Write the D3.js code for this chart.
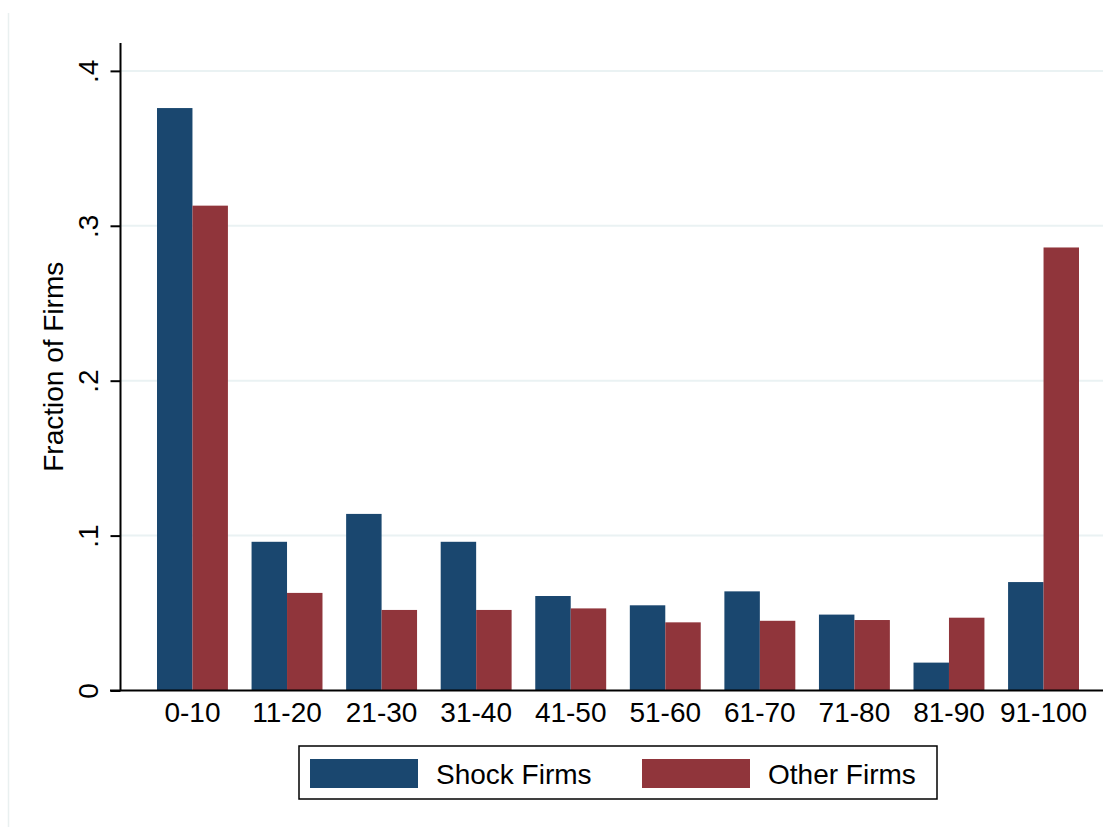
<!DOCTYPE html>
<html>
<head>
<meta charset="utf-8">
<script src="https://cdn.jsdelivr.net/npm/d3@7"></script>
<style>
  html, body { margin: 0; padding: 0; background: #ffffff; }
  svg { display: block; font-family: "Liberation Sans", Arial, Helvetica, sans-serif; }
</style>
</head>
<body>
<svg id="chart" width="1103" height="827"></svg>
<script>
// Share of firms by percentile bin
const categories = ["0-10", "11-20", "21-30", "31-40", "41-50", "51-60", "61-70", "71-80", "81-90", "91-100"];
const seriesNames = ["Shock Firms", "Other Firms"];
const shockFirms = [0.376, 0.096, 0.114, 0.096, 0.061, 0.055, 0.064, 0.049, 0.018, 0.070];
const otherFirms = [0.313, 0.063, 0.052, 0.052, 0.053, 0.044, 0.045, 0.0455, 0.047, 0.286];
const yTicks = [0, 0.1, 0.2, 0.3, 0.4];
const yTickLabels = ["0", ".1", ".2", ".3", ".4"];
const yTitle = "Fraction of Firms";

const colors = { "Shock Firms": "#1a476f", "Other Firms": "#90353b" };

const svg = d3.select("#chart");
const W = 1103, H = 827;
const FONT = 28;

const plot = { left: 120.5, top: 43, bottom: 690.5, right: W };

const rows = categories.map((c, i) => ({ cat: c, values: [shockFirms[i], otherFirms[i]] }));

const x = d3.scaleBand()
  .domain(categories)
  .range([157, 1079])
  .paddingInner(0.25)
  .paddingOuter(0);

const xs = d3.scaleBand()
  .domain(seriesNames)
  .range([0, x.bandwidth()])
  .padding(0);

const y = d3.scaleLinear()
  .domain([0, 0.418])
  .range([plot.bottom, plot.top]);

// outer frame edge
svg.append("line")
  .attr("x1", 8.5).attr("x2", 8.5)
  .attr("y1", 13).attr("y2", H)
  .attr("stroke", "#e9f0f0").attr("stroke-width", 1.5);

// horizontal grid lines
svg.append("g")
  .selectAll("line")
  .data(yTicks.filter(d => d > 0))
  .join("line")
  .attr("x1", plot.left).attr("x2", W)
  .attr("y1", d => y(d)).attr("y2", d => y(d))
  .attr("stroke", "#eaf2f3").attr("stroke-width", 2);

// bars
const groups = svg.append("g")
  .selectAll("g")
  .data(rows)
  .join("g")
  .attr("transform", d => `translate(${x(d.cat)},0)`);

groups.selectAll("rect")
  .data(d => d.values.map((v, i) => ({ name: seriesNames[i], value: v })))
  .join("rect")
  .attr("x", d => xs(d.name))
  .attr("width", xs.bandwidth())
  .attr("y", d => y(d.value))
  .attr("height", d => y(0) - y(d.value))
  .attr("fill", d => colors[d.name]);

// y axis
const yAxis = d3.axisLeft(y)
  .tickValues(yTicks)
  .tickFormat((d, i) => yTickLabels[i])
  .tickSize(10)
  .tickPadding(0);

const gy = svg.append("g")
  .attr("transform", `translate(${plot.left},0)`)
  .call(yAxis);
gy.select(".domain").remove();
gy.selectAll(".tick line").attr("stroke", "#000").attr("stroke-width", 2);
gy.selectAll(".tick text")
  .attr("font-size", FONT)
  .attr("fill", "#000")
  .attr("transform", "translate(-23,0) rotate(-90)")
  .attr("x", 0).attr("dy", 0)
  .attr("text-anchor", "middle");

svg.append("line")
  .attr("x1", plot.left).attr("x2", plot.left)
  .attr("y1", plot.top).attr("y2", plot.bottom)
  .attr("stroke", "#000").attr("stroke-width", 2);

// x axis
const xAxis = d3.axisBottom(x).tickSize(0).tickPadding(0);
const gx = svg.append("g")
  .attr("transform", `translate(0,${plot.bottom})`)
  .call(xAxis);
gx.select(".domain").remove();
gx.selectAll(".tick text")
  .attr("font-size", FONT)
  .attr("fill", "#000")
  .attr("y", 31.5).attr("dy", 0);

svg.append("line")
  .attr("x1", 110).attr("x2", W)
  .attr("y1", plot.bottom).attr("y2", plot.bottom)
  .attr("stroke", "#000").attr("stroke-width", 2);

// y axis title
svg.append("text")
  .attr("transform", `translate(63,${(plot.top + plot.bottom) / 2}) rotate(-90)`)
  .attr("text-anchor", "middle")
  .attr("font-size", FONT)
  .attr("fill", "#000")
  .text(yTitle);

// legend
const legend = svg.append("g");
legend.append("rect")
  .attr("x", 299).attr("y", 746)
  .attr("width", 638).attr("height", 53)
  .attr("fill", "#fff").attr("stroke", "#000").attr("stroke-width", 1.5);

const legendX = [310, 642];
const items = legend.selectAll("g.item")
  .data(seriesNames)
  .join("g")
  .attr("class", "item")
  .attr("transform", (d, i) => `translate(${legendX[i]},0)`);
items.append("rect")
  .attr("x", 0).attr("y", 759)
  .attr("width", 108).attr("height", 29)
  .attr("fill", d => colors[d]);
items.append("text")
  .attr("x", 126).attr("y", 784)
  .attr("font-size", FONT)
  .attr("fill", "#000")
  .text(d => d);
</script>
</body>
</html>
